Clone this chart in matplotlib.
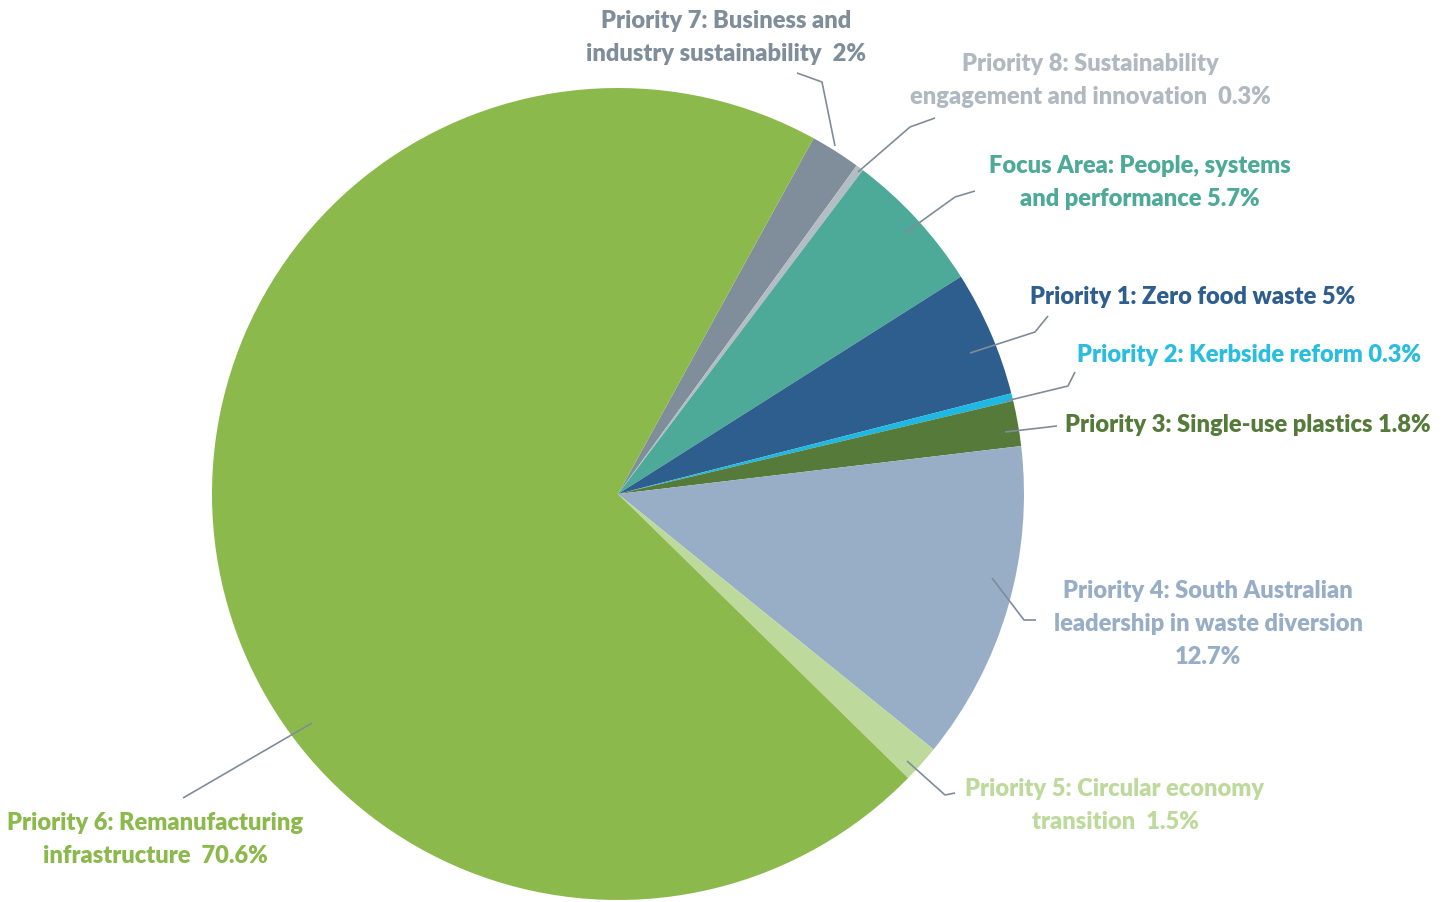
import matplotlib
matplotlib.use("Agg")
import matplotlib.pyplot as plt

# ---- data ----
labels = [
    "Priority 7: Business and\nindustry sustainability  2%",
    "Priority 8: Sustainability\nengagement and innovation  0.3%",
    "Focus Area: People, systems\nand performance 5.7%",
    "Priority 1: Zero food waste 5%",
    "Priority 2: Kerbside reform 0.3%",
    "Priority 3: Single-use plastics 1.8%",
    "Priority 4: South Australian\nleadership in waste diversion\n12.7%",
    "Priority 5: Circular economy\ntransition  1.5%",
    "Priority 6: Remanufacturing\ninfrastructure  70.6%",
]
values = [2.0, 0.3, 5.7, 5.0, 0.3, 1.8, 12.7, 1.5, 70.6]
colors = ["#7F8E9A", "#B5BDC4", "#4DAA99", "#2E5E8E", "#1FB8E2",
          "#557A3A", "#98AEC6", "#BDDA9C", "#8BB94C"]
text_colors = ["#7F8E9A", "#B0B9C1", "#4DAA99", "#2E5E8E", "#29BDE0",
               "#557A3A", "#98AEC6", "#BDDA9C", "#8BB94C"]

# ---- layout (pixel coords, y from top) ----
W, H = 1452, 902
CX, CY, R = 618, 494, 406
text_pos = [
    (726, 21, "center"),
    (1090, 64, "center"),
    (1140, 166, "center"),
    (1030, 297, "left"),
    (1077, 355, "left"),
    (1065, 425, "left"),
    (1208, 591, "center"),
    (1115, 789, "center"),
    (155, 823, "center"),
]
leaders = [
    [(835, 146), (822, 82), (797, 73)],
    [(858, 172), (910, 127), (935, 118)],
    [(905, 233), (955, 197), (975, 191)],
    [(970, 353), (1035, 332), (1048, 316)],
    [(1006, 401), (1068, 386), (1075, 372)],
    [(1005, 432), (1057, 426)],
    [(992, 578), (1024, 620), (1036, 620)],
    [(907, 761), (945, 795), (955, 793)],
    [(312, 723), (183, 798)],
]
LINE_GAP = 33

fig = plt.figure(figsize=(W / 100, H / 100), dpi=100)
ax = fig.add_axes([0, 0, 1, 1])
ax.pie(values, colors=colors, startangle=61.2, counterclock=False,
       center=(CX, H - CY), radius=R,
       wedgeprops=dict(linewidth=0))
ax.set_xlim(0, W)
ax.set_ylim(0, H)
ax.set_aspect("equal")
ax.axis("off")

for lab, col, (tx, ty, ha), pts in zip(labels, text_colors, text_pos, leaders):
    xs = [p[0] for p in pts]
    ys = [H - p[1] for p in pts]
    ax.plot(xs, ys, color="#7F8C99", lw=1.2, solid_capstyle="butt")
    for i, line in enumerate(lab.split("\n")):
        ax.text(tx, H - (ty + i * LINE_GAP), line, color=col, ha=ha,
                va="center", fontsize=17, fontweight="heavy", family="Lato")

fig.savefig("out.png", dpi=100)
